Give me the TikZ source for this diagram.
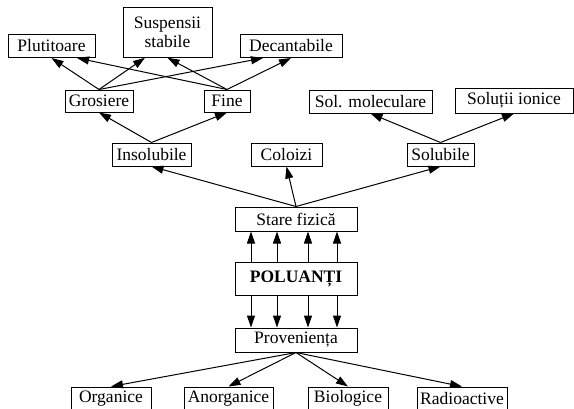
\documentclass[tikz,border=0pt]{standalone}
\usepackage{fontspec}
\setmainfont{Liberation Serif}
\usetikzlibrary{arrows.meta}
\begin{document}
\begin{tikzpicture}[x=1pt,y=-1pt,
  box/.style={draw,line width=1pt,inner sep=0pt,font=\fontsize{17.5}{19}\selectfont},
  arr/.style={line width=1pt,-{Triangle[length=12pt,width=8pt]}}]
\useasboundingbox (0,0) rectangle (574,408);
% top level
\node[box,minimum width=87,minimum height=23] (plut) at (51.5,46) {Plutitoare};
\node[box,minimum width=89,minimum height=50,align=center] (susp) at (167.5,32.25) {Suspensii\\stabile};
\node[box,minimum width=102,minimum height=23] (dec) at (291,46) {Decantabile};
% second level
\node[box,minimum width=68,minimum height=22] (gros) at (99,101) {Grosiere};
\node[box,minimum width=46,minimum height=22] (fine) at (227,101) {Fine};
\node[box,minimum width=123,minimum height=23] (solmol) at (370.5,101.5) {Sol. moleculare};
\node[box,minimum width=118,minimum height=25] (solion) at (514,100.5) {Soluții ionice};
% third level
\node[box,minimum width=79,minimum height=23] (insol) at (151.5,154.5) {Insolubile};
\node[box,minimum width=71,minimum height=23] (colo) at (286.5,154.5) {Coloizi};
\node[box,minimum width=67,minimum height=23] (solub) at (440.5,154.5) {Solubile};
% centre column
\node[box,minimum width=122,minimum height=24] (stare) at (296,219) {Stare fizică};
\node[box,minimum width=122,minimum height=33] (pol) at (296,278.5) {\bfseries POLUANȚI};
\node[box,minimum width=122,minimum height=24] (prov) at (296,340) {Proveniența};
% bottom level
\node[box,minimum width=80,minimum height=23] (org) at (111,398.5) {Organice};
\node[box,minimum width=89,minimum height=23] (anorg) at (228.5,398.5) {Anorganice};
\node[box,minimum width=80,minimum height=23] (bio) at (348,398.5) {Biologice};
\node[box,minimum width=90,minimum height=23] (radio) at (462,398.5) {Radioactive};

% connectors
\draw[arr] (gros.north) -- (plut.south);
\draw[arr] (gros.north) -- ([xshift=-22.5]susp.south);
\draw[arr] (gros.north) -- ([xshift=-28]dec.south);
\draw[arr] (fine.north) -- ([xshift=25.5]plut.south);
\draw[arr] (fine.north) -- (susp.south);
\draw[arr] (fine.north) -- (dec.south);
\draw[arr] (insol.north) -- (gros.south);
\draw[arr] (insol.north) -- (fine.south);
\draw[arr] (solub.north) -- (solmol.south);
\draw[arr] (solub.north) -- (solion.south);
\draw[arr] (stare.north) -- (insol.south);
\draw[arr] (stare.north) -- (colo.south);
\draw[arr] (stare.north) -- (solub.south);
\foreach \dx in {-45,-19,12,41} {
  \draw[arr] ([xshift=\dx]pol.north) -- ([xshift=\dx]stare.south);
  \draw[arr] ([xshift=\dx]pol.south) -- ([xshift=\dx]prov.north);
}
\draw[arr] (prov.south) -- (org.north);
\draw[arr] (prov.south) -- (anorg.north);
\draw[arr] (prov.south) -- (bio.north);
\draw[arr] (prov.south) -- (radio.north);
\end{tikzpicture}
\end{document}
